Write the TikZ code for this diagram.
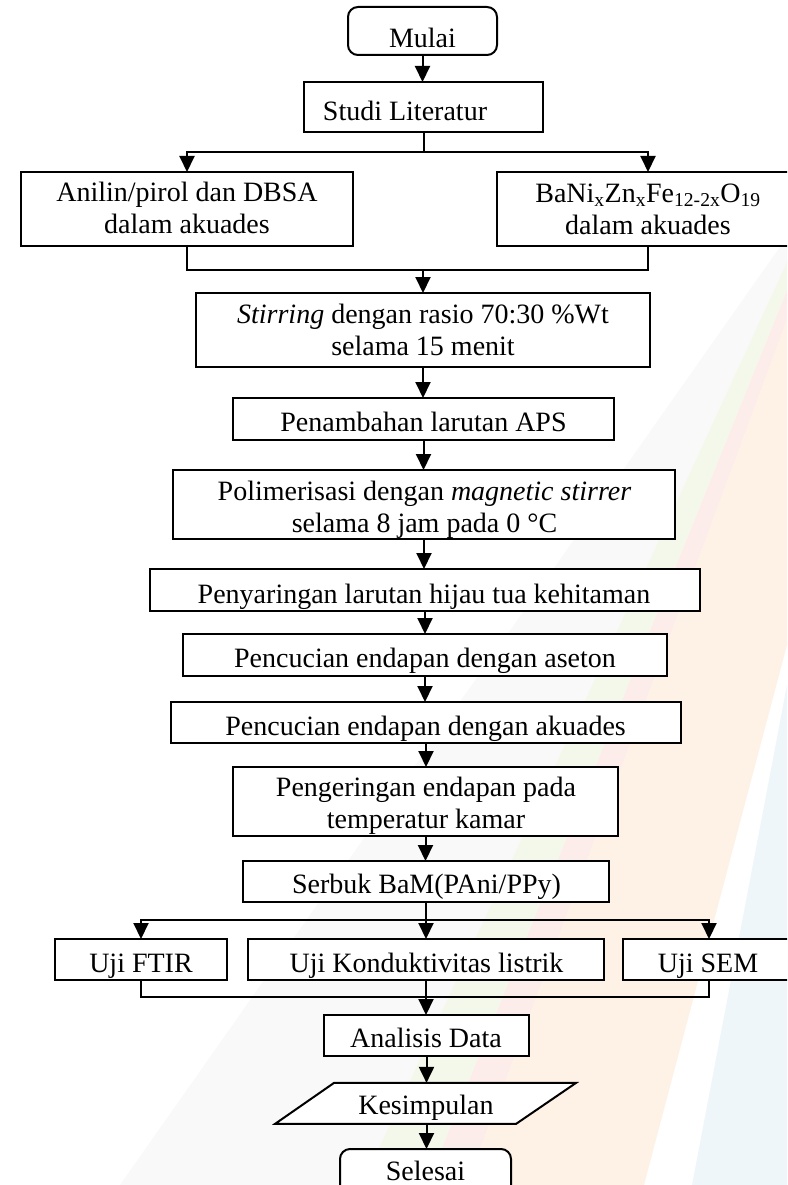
\documentclass[tikz,border=0pt]{standalone}
\usepackage{fontspec}
\setmainfont{Liberation Serif}
\usetikzlibrary{arrows.meta,calc}

% faint background band colours
\definecolor{bandgrey}{HTML}{F9F9F9}
\definecolor{bandgreen}{HTML}{F4F8EA}
\definecolor{bandpink}{HTML}{FDEDEA}
\definecolor{bandpeach}{HTML}{FEF2E7}
\definecolor{bandblue}{HTML}{EFF6F9}

\begin{document}
\begin{tikzpicture}[x=1pt, y=-1pt,
  box/.style={draw, line width=2pt, fill=white, inner sep=0pt, outer sep=0pt},
  term/.style={box, rounded corners=10pt},
  lbl/.style={anchor=base, inner sep=0pt, font=\fontsize{28}{32}\selectfont},
  link/.style={line width=2pt},
  arr/.style={link, -{Triangle[length=16pt,width=15pt]}}]

\useasboundingbox (0,0) rectangle (787,1185);
\clip (0,0) rectangle (787,1185);
\fill[white] (0,0) rectangle (787,1185);

% diagonal background bands
\fill[bandgrey]  (780,247) -- (787,247) -- (787,262) -- (362,1185) -- (120,1185) -- cycle;
\fill[bandgreen] (787,262) -- (787,290) -- (427,1185) -- (362,1185) -- cycle;
\fill[bandpink]  (787,290) -- (787,320) -- (467,1185) -- (427,1185) -- cycle;
\fill[bandpeach] (787,320) -- (787,645) -- (644,1185) -- (467,1185) -- cycle;
\fill[bandblue]  (787,685) -- (787,1185) -- (692,1185) -- cycle;

% process boxes
\node[term, minimum width=149pt, minimum height=48pt] (mulai)   at (422.5,31)    {};
\node[box,  minimum width=239pt, minimum height=50pt] (studi)   at (423.5,107)   {};
\node[box,  minimum width=332pt, minimum height=74pt] (anilin)  at (187,209)     {};
\node[box,  minimum width=302pt, minimum height=74pt] (bani)    at (648,209)     {};
\node[box,  minimum width=454pt, minimum height=74pt] (stir)    at (423,330)     {};
\node[box,  minimum width=381pt, minimum height=42pt] (aps)     at (423.5,419)   {};
\node[box,  minimum width=502pt, minimum height=69pt] (poli)    at (424,504.5)   {};
\node[box,  minimum width=550pt, minimum height=42pt] (saring)  at (425,590)     {};
\node[box,  minimum width=484pt, minimum height=42pt] (aseton)  at (425,655)     {};
\node[box,  minimum width=510pt, minimum height=41pt] (akuades) at (426,722.5)   {};
\node[box,  minimum width=385pt, minimum height=69pt] (kering)  at (425.5,801.5) {};
\node[box,  minimum width=366pt, minimum height=41pt] (serbuk)  at (426,881.5)   {};
\node[box,  minimum width=172pt, minimum height=41pt] (ftir)    at (141,959.5)   {};
\node[box,  minimum width=356pt, minimum height=41pt] (kond)    at (426,959.5)   {};
\node[box,  minimum width=172pt, minimum height=41pt] (sem)     at (709,959.5)   {};
\node[box,  minimum width=205pt, minimum height=41pt] (analisis) at (426.5,1035.5) {};
\node[inner sep=0pt, outer sep=0pt, minimum width=301pt, minimum height=41pt] (simpul) at (425.5,1103.4) {};
\draw[link, fill=white] ($(simpul.north west)+(59,0)$) -- (simpul.north east)
  -- ($(simpul.south east)+(-60,0)$) -- (simpul.south west) -- cycle;
\node[term, minimum width=171pt, minimum height=48pt] (selesai) at (425.5,1173)  {};

% labels
\node[lbl] (t-mulai)   at (422.5,48)    {Mulai};
\node[lbl] (t-studi)   at (405,120.7)   {Studi Literatur};
\node[lbl] (t-anilin)  at (187,201.7)   {\begin{tabular}[t]{@{}c@{}}Anilin/pirol dan DBSA\\dalam akuades\end{tabular}};
\node[lbl] (t-bani)    at (648,202.5)   {\begin{tabular}[t]{@{}c@{}}BaNi\textsubscript{x}Zn\textsubscript{x}Fe\textsubscript{12-2x}O\textsubscript{19}\\dalam akuades\end{tabular}};
\node[lbl] (t-stir)    at (423,323.3)   {\begin{tabular}[t]{@{}c@{}}\textit{Stirring} dengan rasio 70:30 \%Wt\\selama 15 menit\end{tabular}};
\node[lbl] (t-aps)     at (423.5,431.7) {Penambahan larutan APS};
\node[lbl] (t-poli)    at (424.5,500)   {\begin{tabular}[t]{@{}c@{}}Polimerisasi dengan \textit{magnetic stirrer}\\selama 8 jam pada 0 °C\end{tabular}};
\node[lbl] (t-saring)  at (424,603.3)   {Penyaringan larutan hijau tua kehitaman};
\node[lbl] (t-aseton)  at (425,667.7)   {Pencucian endapan dengan aseton};
\node[lbl] (t-akuades) at (425.6,735)   {Pencucian endapan dengan akuades};
\node[lbl] (t-kering)  at (426,796.7)   {\begin{tabular}[t]{@{}c@{}}Pengeringan endapan pada\\temperatur kamar\end{tabular}};
\node[lbl] (t-serbuk)  at (426.5,893.3) {Serbuk BaM(PAni/PPy)};
\node[lbl] (t-ftir)    at (141,972.3)   {Uji FTIR};
\node[lbl] (t-kond)    at (426.5,972.3) {Uji Konduktivitas listrik};
\node[lbl] (t-sem)     at (708,972.3)   {Uji SEM};
\node[lbl] (t-analisis) at (426,1047.3) {Analisis Data};
\node[lbl] (t-simpul)  at (426,1114.5)  {Kesimpulan};
\node[lbl] (t-selesai) at (425.5,1180)  {Selesai};

% branch and merge points
\coordinate (split1) at (423.5,152);
\coordinate (merge1) at (423,270);
\coordinate (split2) at (426,920);
\coordinate (merge2) at (426,997);

% connectors
\draw[arr] (mulai.south) -- (mulai.south |- studi.north);
\draw[link] (studi.south) -- (split1);
\draw[arr] (split1) -| (anilin.north);
\draw[arr] (split1) -| (bani.north);
\draw[link] (anilin.south) |- (merge1) -| (bani.south);
\draw[arr] (merge1) -- (merge1 |- stir.north);
\draw[arr] (stir.south) -- (stir.south |- aps.north);
\draw[arr] (aps.south) -- (aps.south |- poli.north);
\draw[arr] (poli.south) -- (poli.south |- saring.north);
\draw[arr] (saring.south) -- (saring.south |- aseton.north);
\draw[arr] (aseton.south) -- (aseton.south |- akuades.north);
\draw[arr] (akuades.south) -- (akuades.south |- kering.north);
\draw[arr] (kering.south) -- (kering.south |- serbuk.north);
\draw[arr] (serbuk.south) -- (serbuk.south |- kond.north);
\draw[arr] (split2) -| (ftir.north);
\draw[arr] (split2) -| (sem.north);
\draw[link] (ftir.south) |- (merge2) -| (sem.south);
\draw[arr] (kond.south) -- (kond.south |- analisis.north);
\draw[arr] (analisis.south) -- (analisis.south |- simpul.north);
\draw[arr] (simpul.south -| analisis.south) -- (analisis.south |- selesai.north);
\end{tikzpicture}
\end{document}
